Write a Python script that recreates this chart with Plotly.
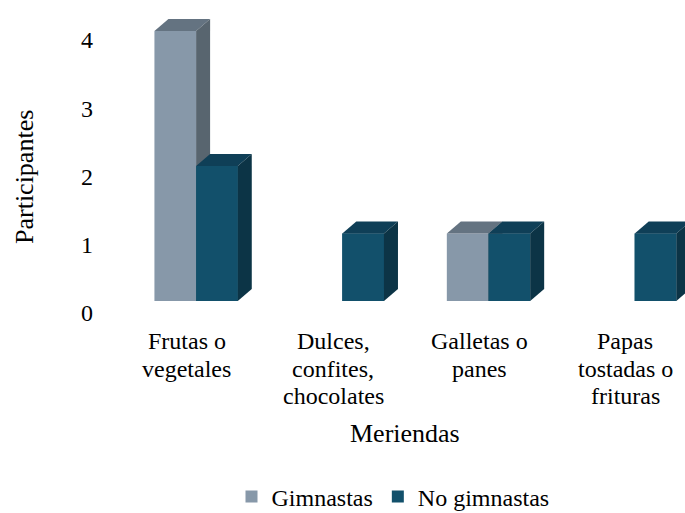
import plotly.graph_objects as go

categories = ["Frutas o vegetales", "Dulces, confites, chocolates", "Galletas o panes", "Papas tostadas o frituras"]
cat_label_lines = [["Frutas o", "vegetales"], ["Dulces,", "confites,", "chocolates"],
                   ["Galletas o", "panes"], ["Papas", "tostadas o", "frituras"]]
gimnastas = [4, 0, 1, 0]
no_gimnastas = [2, 1, 1, 1]
y_ticks = [0, 1, 2, 3, 4]

colors = {
    "Gimnastas": ("#8798a9", "#647381", "#58656f"),
    "No gimnastas": ("#12506b", "#0f3f57", "#0c3446"),
}

FONT = "Liberation Serif, Times New Roman, serif"
W, H = 685, 513

def fx(px):  # reference x pixel -> paper
    return px / W

def fy(py):  # reference y pixel -> paper
    return 1 - py / H

x_left_px, x_right_px = 123, 685
y_bot_px, y_top_px = 322, 8
y_zero_px = 301
px_per_cat = 146.2
px_per_unit = 67.5
x_range = [-0.5, -0.5 + (x_right_px - x_left_px) / px_per_cat]
y_range = [(y_zero_px - y_bot_px) / px_per_unit, (y_zero_px - y_top_px) / px_per_unit]
# tick labels: 0 at ref y=313, 68.25 px per unit
lab_zero_px, lab_per_unit = 313, 68.25
y2_range = [(lab_zero_px - y_bot_px) / lab_per_unit, (lab_zero_px - y_top_px) / lab_per_unit]

bargap = 0.43
bw = (1 - bargap) / 2
dx = 14 / px_per_cat
dy = 12 / px_per_unit

fig = go.Figure()
series = [("Gimnastas", gimnastas, -1), ("No gimnastas", no_gimnastas, 0)]
for name, vals, off in series:
    fig.add_trace(go.Bar(x=list(range(len(categories))), y=vals, name=name, width=bw,
                         offset=off * bw, marker=dict(color=colors[name][0], line=dict(width=0)),
                         hoverinfo="skip"))

def poly(xs, ys, color):
    fig.add_trace(go.Scatter(x=xs + [xs[0]], y=ys + [ys[0]], fill="toself", fillcolor=color,
                             mode="lines", line=dict(width=0, color=color), showlegend=False,
                             hoverinfo="skip"))

for name, vals, off in series:
    front, top, side = colors[name]
    for i, v in enumerate(vals):
        if v <= 0:
            continue
        x0 = i + off * bw
        x1 = x0 + bw
        if off == 0:
            poly([x0, x1, x1, x0], [0, 0, v, v], front)
        poly([x0, x1, x1 + dx, x0 + dx], [v, v, v + dy, v + dy], top)
        poly([x1, x1 + dx, x1 + dx, x1], [0, dy, v + dy, v], side)

# dummy trace for label axis
fig.add_trace(go.Scatter(x=[None], y=[None], yaxis="y2", showlegend=False, hoverinfo="skip"))

for i, lines in enumerate(cat_label_lines):
    cx_px = x_left_px + (i + 0.5 - 0.063) * px_per_cat
    for j, line in enumerate(lines):
        fig.add_annotation(x=fx(cx_px), y=fy(341 + j * 27.5), xref="paper", yref="paper",
                           text=line, showarrow=False, yanchor="middle", xanchor="center",
                           font=dict(family=FONT, size=24, color="#000000"))

fig.add_annotation(x=fx(405), y=fy(433), xref="paper", yref="paper", text="Meriendas",
                   showarrow=False, xanchor="center", yanchor="middle",
                   font=dict(family=FONT, size=26, color="#000000"))
fig.add_annotation(x=fx(24), y=fy(177), xref="paper", yref="paper", text="Participantes",
                   showarrow=False, textangle=-90, xanchor="center", yanchor="middle",
                   font=dict(family=FONT, size=26, color="#000000"))

fig.update_layout(
    width=W, height=H,
    margin=dict(l=0, r=0, t=0, b=0, autoexpand=False),
    paper_bgcolor="white", plot_bgcolor="white",
    barmode="overlay",
    showlegend=True,
    legend=dict(orientation="h", x=fx(393), xanchor="center", y=fy(497), yanchor="middle",
                font=dict(family=FONT, size=24, color="#000000"), itemwidth=30,
                traceorder="normal", tracegroupgap=0),
    xaxis=dict(domain=[fx(x_left_px), 1], range=x_range, showticklabels=False, showgrid=False,
               zeroline=False, showline=False, ticks=""),
    yaxis=dict(domain=[fy(y_bot_px), fy(y_top_px)], range=y_range, showticklabels=False,
               showgrid=False, zeroline=False, showline=False, ticks=""),
    yaxis2=dict(overlaying="y", anchor="free", position=fx(93), side="left",
                range=y2_range, tickvals=y_ticks, ticktext=[str(t) for t in y_ticks],
                showgrid=False, zeroline=False, showline=False, ticks="",
                tickfont=dict(family=FONT, size=24, color="#000000")),
)

fig.write_html("out.html", config={"displayModeBar": False},
               post_script="document.body.style.margin='0';")
